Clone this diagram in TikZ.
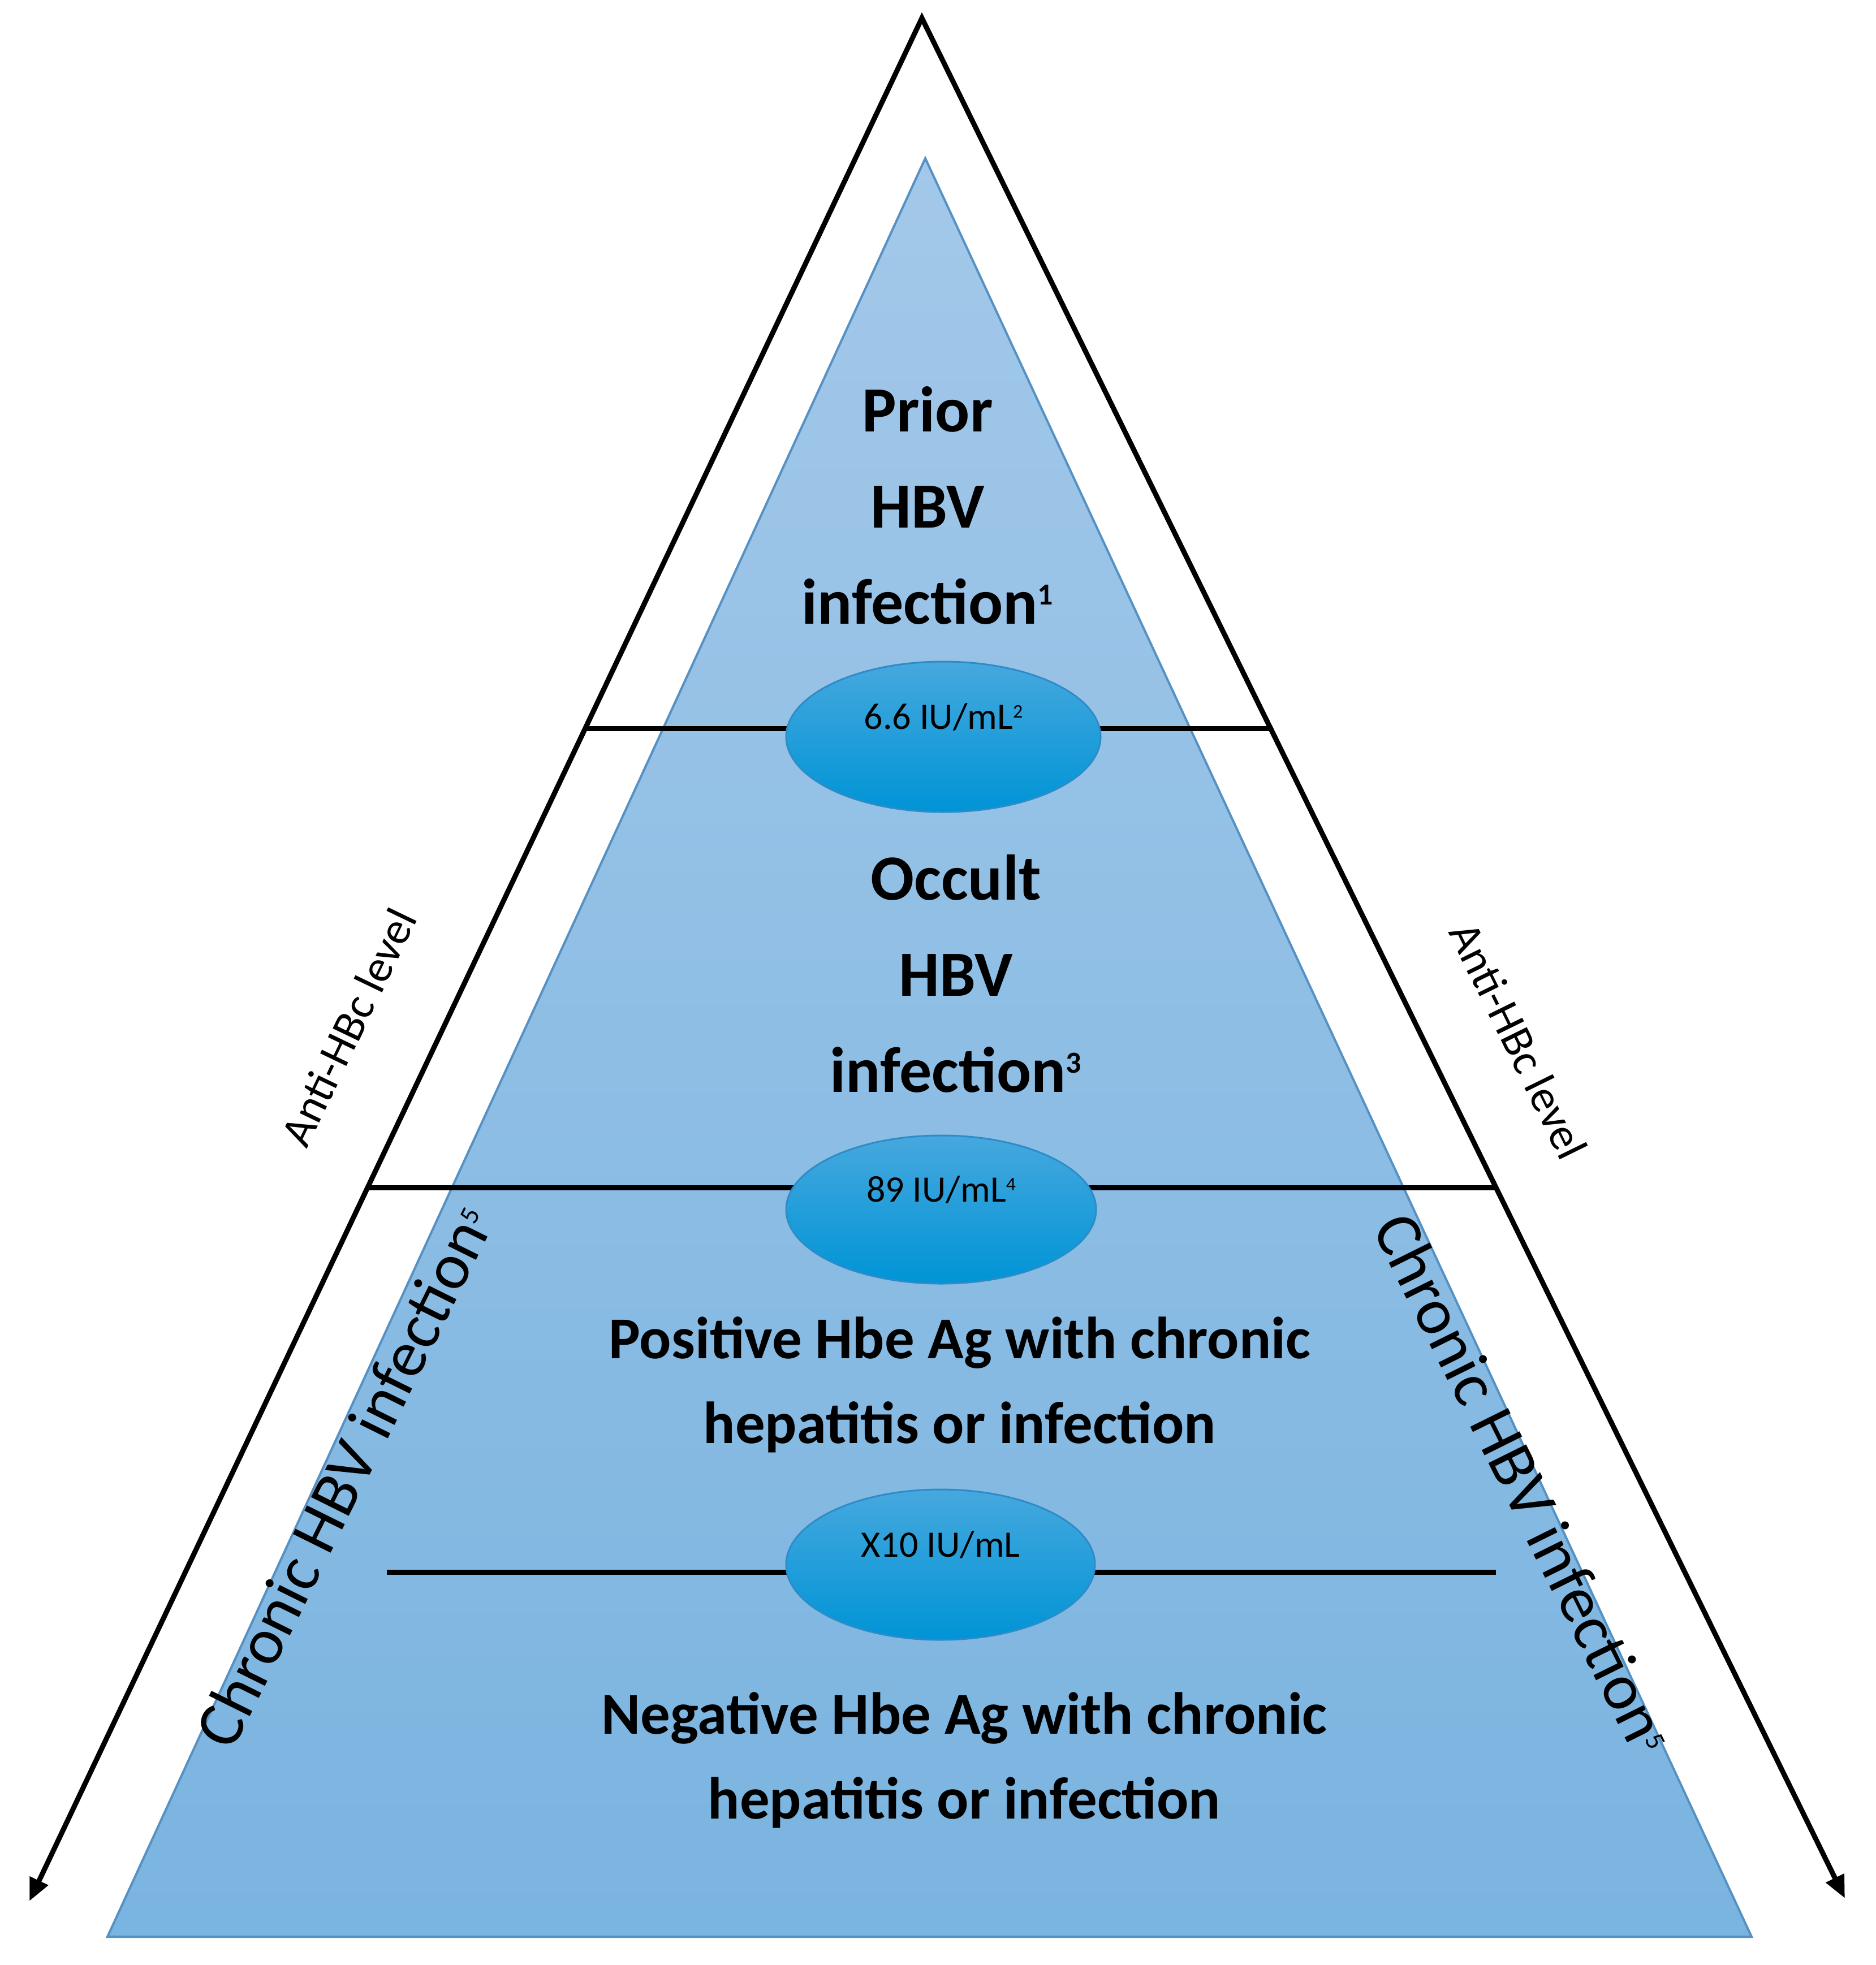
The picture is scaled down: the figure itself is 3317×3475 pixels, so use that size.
\documentclass[tikz,border=0pt]{standalone}
\usepackage{fontspec}
\setmainfont{Carlito}
\usetikzlibrary{arrows.meta,shapes.geometric}
\definecolor{triTop}{RGB}{163,200,233}
\definecolor{triBot}{RGB}{122,180,224}
\definecolor{triEdge}{RGB}{85,145,195}
\definecolor{ellTop}{RGB}{70,168,222}
\definecolor{ellBot}{RGB}{0,148,214}
\definecolor{ellEdge}{RGB}{45,140,200}
% raised small index: #1 = size (pt), #2 = raise, #3 = text
\newcommand\supidx[3]{\raisebox{#2}{\fontsize{#1}{#1}\selectfont #3}}
\tikzset{
  levelline/.style={line width=9pt, black},
  axisline/.style={line width=9pt, black, line join=miter, {Triangle[length=40pt,width=34pt]}-{Triangle[length=40pt,width=34pt]}},
  cutoff/.style={ellipse, top color=ellTop, bottom color=ellBot, draw=ellEdge, line width=3pt,
     inner sep=0pt, text height=45pt, text depth=72pt,
     font=\fontsize{66}{70}\selectfont},
  bigtext/.style={align=center, inner sep=0pt, font=\bfseries\fontsize{114}{170}\selectfont},
  midtext/.style={align=center, inner sep=0pt, font=\bfseries\fontsize{105}{150}\selectfont},
  sidesmall/.style={inner sep=0pt, font=\fontsize{80}{90}\selectfont},
  sidebig/.style={inner sep=0pt, font=\fontsize{116}{120}\selectfont},
}
\begin{document}
\begin{tikzpicture}[x=1pt,y=-1pt]
\useasboundingbox (0,0) rectangle (3317,3475);
\fill[white] (0,0) rectangle (3317,3475);
% inner pyramid
\coordinate (ta) at (1636,280);
\coordinate (tl) at (190,3425);
\coordinate (tr) at (3097,3425);
\path[top color=triTop, bottom color=triBot, draw=triEdge, line width=4pt] (ta) -- (tl) -- (tr) -- cycle;
% outer axes
\coordinate (apex) at (1630,32);
\coordinate (ltip) at (52,3362);
\coordinate (rtip) at (3262,3357);
\draw[axisline] (ltip) -- (apex) -- (rtip);
% level lines
\coordinate (h1l) at (1035,1288);
\coordinate (h1r) at (2246,1288);
\coordinate (h2l) at (650,2100);
\coordinate (h2r) at (2645,2100);
\coordinate (h3l) at (684,2780);
\coordinate (h3r) at (2645,2780);
\draw[levelline] (h1l) -- (h1r);
\draw[levelline] (h2l) -- (h2r);
\draw[levelline] (h3l) -- (h3r);
% cut-off ellipses
\node[cutoff, minimum width=556pt, minimum height=266pt] (e1) at (1668,1303) {6.6 IU/mL\supidx{34}{20pt}{2}};
\node[cutoff, minimum width=548pt, minimum height=262pt] (e2) at (1664,2139) {89 IU/mL\supidx{34}{20pt}{4}};
\node[cutoff, minimum width=546pt, minimum height=266pt] (e3) at (1663,2767) {X10 IU/mL};
% texts
\node[bigtext] (prior) at (1640,894) {Prior\\HBV\\infection\supidx{54}{34pt}{1}};
\node[bigtext] (occult) at (1690,1722) {Occult\\HBV\\infection\supidx{54}{34pt}{3}};
\node[midtext] (pos) at (1697,2449) {Positive Hbe Ag with chronic\\hepatitis or infection};
\node[midtext] (neg) at (1705,3113) {Negative Hbe Ag with chronic\\hepatitis or infection};
\node[sidesmall, rotate=64.3] (antil) at (616,1816) {Anti-HBc level};
\node[sidesmall, rotate=-63.8] (antir) at (2685,1840) {Anti-HBc level};
\node[sidebig, rotate=63.6] (chrl) at (608,2611) {Chronic HBV infection\supidx{48}{30pt}{5}};
\node[sidebig, rotate=-63.6] (chrr) at (2694,2623) {Chronic HBV infection\supidx{48}{30pt}{5}};
\end{tikzpicture}
\end{document}
